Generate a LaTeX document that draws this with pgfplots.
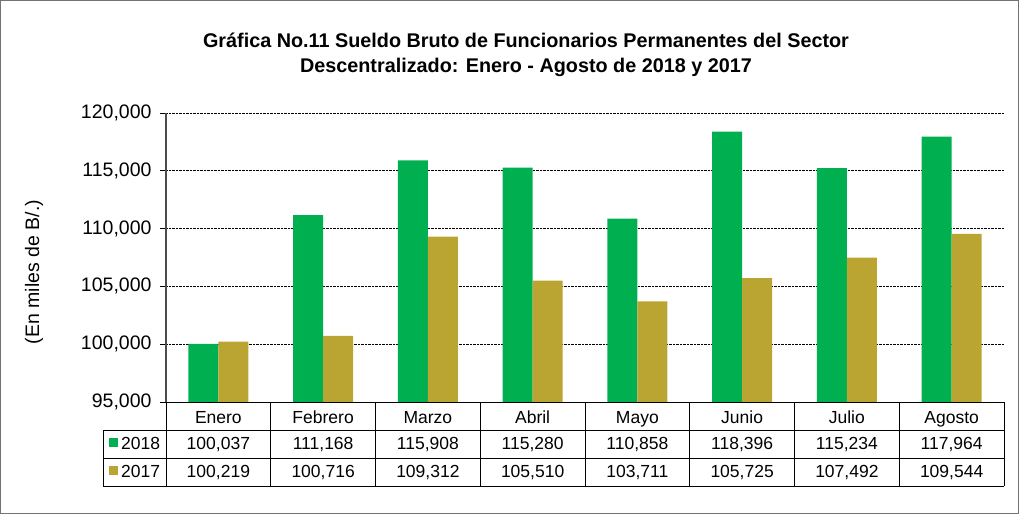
\documentclass[border=0pt]{standalone}
\usepackage{pgfplots}
\pgfplotsset{compat=1.18}
\usepackage{fontspec}
\setmainfont{Liberation Sans}
\definecolor{g18}{HTML}{00B050}
\definecolor{o17}{HTML}{BBA532}
\begin{document}
\begin{tikzpicture}[x=1pt,y=1pt]
\useasboundingbox (0,0) rectangle (1019,514);
\draw[black!55, line width=1.2pt] (0.6,0.6) rectangle (1018.4,513.4);
\node[font=\fontsize{19.8}{23}\selectfont\bfseries] at (526,474) {Gráfica No.11 Sueldo Bruto de Funcionarios Permanentes del Sector};
\node[font=\fontsize{19.8}{23}\selectfont\bfseries] at (526,447) {Descentralizado: Enero - Agosto de 2018 y 2017};
\begin{axis}[at={(166pt,112pt)}, anchor=south west, scale only axis,
  width=838pt, height=289pt,
  ybar=0pt, bar width=30pt,
  ymin=95000, ymax=120000, ytick={95000,100000,...,120000},
  scaled y ticks=false,
  xmin=-0.5, xmax=7.5,
  xtick={0,...,7},
  xticklabels={Enero,Febrero,Marzo,Abril,Mayo,Junio,Julio,Agosto},
  x tick style={draw=none},
  x tick label style={font=\fontsize{17.5}{20}\selectfont, anchor=base, yshift=-15pt, inner sep=0pt},
  axis x line*=bottom, axis y line*=left,
  x axis line style={black, line width=0.8pt, -},
  y axis line style={black!70, line width=1.2pt, -},
  tick align=outside, ytick pos=left, major tick length=6pt,
  y tick style={black, line width=0.8pt},
  ymajorgrids, major grid style={black, densely dotted, line width=0.8pt},
  y tick label style={font=\fontsize{19.5}{23}\selectfont, xshift=-5pt},
  /pgf/number format/.cd, 1000 sep={,}, fixed, assume math mode=true,
  /pgfplots/.cd,
  every axis y label/.style={at={(axis description cs:-0.1575,0.45)}, anchor=center, rotate=90, font=\fontsize{19.5}{23}\selectfont},
  ylabel={(En miles de B/.)},
]
\addplot[fill=g18, draw=none] coordinates {(0,100037) (1,111168) (2,115908) (3,115280) (4,110858) (5,118396) (6,115234) (7,117964)};
\addplot[fill=o17, draw=none] coordinates {(0,100219) (1,100716) (2,109312) (3,105510) (4,103711) (5,105725) (6,107492) (7,109544)};
\end{axis}
% data table
\draw[black, line width=0.8pt] (166,112) -- (1004,112);
\draw[black, line width=0.8pt] (103,84) -- (1004,84) (103,56) -- (1004,56) (103,28) -- (1004,28);
\draw[black, line width=0.8pt] (103,84) -- (103,28);
\foreach \k in {0,...,8} {\draw[black, line width=0.8pt] ({166+\k*104.75},112) -- ({166+\k*104.75},28);}
\fill[g18] (109,67) rectangle (118,76);
\fill[o17] (109,39) rectangle (118,48);
\node[font=\fontsize{17.5}{20}\selectfont, anchor=base west, inner sep=0pt] at (121,65) {2018};
\node[font=\fontsize{17.5}{20}\selectfont, anchor=base west, inner sep=0pt] at (121,37) {2017};
\foreach \v/\i in {{100,037}/0,{111,168}/1,{115,908}/2,{115,280}/3,{110,858}/4,{118,396}/5,{115,234}/6,{117,964}/7}
  {\node[font=\fontsize{17.5}{20}\selectfont, inner sep=0pt, anchor=base] at ({166+(\i+0.5)*104.75},65) {\v};}
\foreach \v/\i in {{100,219}/0,{100,716}/1,{109,312}/2,{105,510}/3,{103,711}/4,{105,725}/5,{107,492}/6,{109,544}/7}
  {\node[font=\fontsize{17.5}{20}\selectfont, inner sep=0pt, anchor=base] at ({166+(\i+0.5)*104.75},37) {\v};}
\end{tikzpicture}
\end{document}
